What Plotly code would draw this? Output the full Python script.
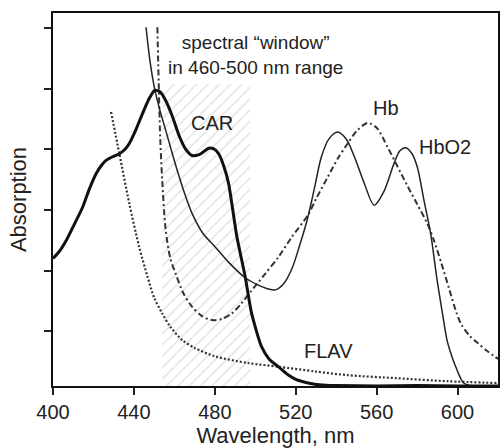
import plotly.graph_objects as go

# ---- data ----
car_wl = [400, 403, 406.6, 410.5, 414.7, 418, 421.3, 424, 426.2, 429.5, 432.8, 435.5, 437.7, 441, 444.2,
          447.5, 450.4, 453, 455.7, 459, 462.2, 465.5, 468.8, 472.5, 477, 479.5, 481.9, 484.5, 486.8,
          490.9, 495, 498.2, 503.1, 507, 511.4, 516, 520, 525, 529.4, 535, 540, 560, 580, 600, 620]
car_abs = [2.20, 2.31, 2.50, 2.76, 3.05, 3.35, 3.60, 3.74, 3.82, 3.88, 3.93, 4.00, 4.10, 4.33, 4.59,
           4.84, 4.98, 4.95, 4.81, 4.55, 4.24, 4.01, 3.90, 3.92, 4.02, 4.01, 3.93, 3.72, 3.44,
           2.56, 1.90, 1.29, 0.74, 0.53, 0.41, 0.28, 0.20, 0.15, 0.12, 0.105, 0.10, 0.09, 0.10, 0.09, 0.09]

hbo2_wl = [446, 448, 450.4, 453, 455.7, 459, 462.2, 465.5, 468.8, 474, 480.2, 487, 495, 502, 506, 510,
           514, 518, 522, 526, 529.5, 532.7, 536.5, 540.8, 545, 549, 554, 558.8, 563.5,
           568.6, 571.5, 574.4, 577.5, 580.1, 583.4, 586.7, 589.9, 592.5, 594.8, 597.5, 599.7,
           601.5, 603, 606, 610, 620]
hbo2_abs = [6.02, 5.45, 4.98, 4.63, 4.32, 3.93, 3.57, 3.23, 2.94, 2.62, 2.39, 2.13, 1.88, 1.75, 1.70, 1.68,
            1.78, 2.02, 2.42, 2.88, 3.40, 3.88, 4.18, 4.29, 4.17, 3.88, 3.43, 3.08, 3.30,
            3.77, 3.98, 4.03, 3.93, 3.71, 3.16, 2.61, 1.84, 1.30, 0.85, 0.55, 0.36,
            0.22, 0.14, 0.10, 0.09, 0.09]

hb_wl = [451.6, 453.0, 454.0, 455.7, 458.0, 460.6, 464.5, 468.8, 473.5, 478.6, 483.5, 488.4,
         493.0, 498.0, 505.0, 511.4, 518.0, 526.1, 530.0, 535.9, 540.8, 545.7, 550.5, 555.6,
         560.0, 565.4, 570.3, 575.2, 580.0, 585.0, 588.3, 592.0, 596.0, 599.5, 602.0, 606.0,
         610.0, 615.0, 620.0]
hb_abs = [6.02, 4.20, 3.49, 2.67, 2.20, 1.95, 1.62, 1.40, 1.25, 1.18, 1.20, 1.29,
          1.45, 1.66, 1.95, 2.22, 2.55, 2.92, 3.18, 3.55, 3.85, 4.10, 4.32, 4.44,
          4.36, 4.04, 3.72, 3.40, 3.10, 2.78, 2.50, 2.12, 1.68, 1.30, 1.10, 0.92,
          0.80, 0.66, 0.54]

flav_wl = [428.7, 432.8, 437.7, 442.6, 446.7, 450, 454, 458, 463.9, 470, 480.2, 496.6,
           511.4, 530, 545.7, 570, 595, 620]
flav_abs = [4.62, 3.93, 3.11, 2.39, 1.90, 1.55, 1.29, 1.07, 0.85, 0.72, 0.58, 0.47,
            0.41, 0.33, 0.27, 0.22, 0.17, 0.14]

window_start = 454
window_end = 497.5
window_top = 5.08

x_ticks = [400, 440, 480, 520, 560, 600]
y_ticks = [1, 2, 3, 4, 5, 6]

y_min, y_max = 0.091, 6.256
x_min, x_max = 400, 620

FONT = "Liberation Sans, Arial, sans-serif"

fig = go.Figure()

# hatched spectral window
fig.add_trace(go.Scatter(
    x=[window_start, window_start, window_end, window_end, window_start],
    y=[y_min, window_top, window_top, y_min, y_min],
    fill="toself", mode="lines", line=dict(width=0),
    fillcolor="rgba(0,0,0,0)",
    fillpattern=dict(shape="/", size=8, solidity=0.18, fgcolor="#c4c4c4", bgcolor="white"),
    hoverinfo="skip", showlegend=False))

fig.add_trace(go.Scatter(x=flav_wl, y=flav_abs, mode="lines",
                         line=dict(color="#333", width=2.2, dash="2px,2px", shape="spline", smoothing=0.8),
                         showlegend=False))
fig.add_trace(go.Scatter(x=hb_wl, y=hb_abs, mode="lines",
                         line=dict(color="#333", width=2, dash="6px,3px,2px,3px", shape="spline", smoothing=0.8),
                         showlegend=False))
fig.add_trace(go.Scatter(x=hbo2_wl, y=hbo2_abs, mode="lines",
                         line=dict(color="#222", width=1.5, shape="spline", smoothing=0.9),
                         showlegend=False))
fig.add_trace(go.Scatter(x=car_wl, y=car_abs, mode="lines",
                         line=dict(color="#111", width=3, shape="spline", smoothing=0.6),
                         showlegend=False))

ann_font = dict(family=FONT, size=20, color="#222")
fig.add_annotation(x=500, y=5.57, text="spectral “window”<br>in 460-500 nm range",
                   showarrow=False, font=dict(family=FONT, size=19, color="#222"))
fig.add_annotation(x=478.5, y=4.43, text="CAR", showarrow=False, font=ann_font)
fig.add_annotation(x=564.5, y=4.68, text="Hb", showarrow=False, font=ann_font)
fig.add_annotation(x=594, y=4.04, text="HbO2", showarrow=False, font=ann_font)
fig.add_annotation(x=536.4, y=0.67, text="FLAV", showarrow=False, font=ann_font)

fig.update_layout(
    width=502, height=448,
    margin=dict(l=53, r=2, t=13, b=62),
    paper_bgcolor="white", plot_bgcolor="white",
    font=dict(family=FONT, color="#222"),
    xaxis=dict(range=[x_min, x_max], tickvals=x_ticks, ticks="outside", ticklen=7,
               tickwidth=1.5, tickcolor="#222", showline=True, linecolor="#111", linewidth=2,
               mirror=True, showgrid=False, zeroline=False,
               tickfont=dict(family=FONT, size=20, color="#222"),
               title=dict(text="Wavelength, nm", font=dict(family=FONT, size=22, color="#222"),
                          standoff=6)),
    yaxis=dict(range=[y_min, y_max], tickvals=y_ticks, ticks="outside", ticklen=7,
               tickwidth=1.5, tickcolor="#222", showticklabels=False, showline=True,
               linecolor="#111", linewidth=2, mirror=True, showgrid=False, zeroline=False,
               title=dict(text="Absorption", font=dict(family=FONT, size=22, color="#222"),
                          standoff=11)),
)

fig.write_html("out.html")
